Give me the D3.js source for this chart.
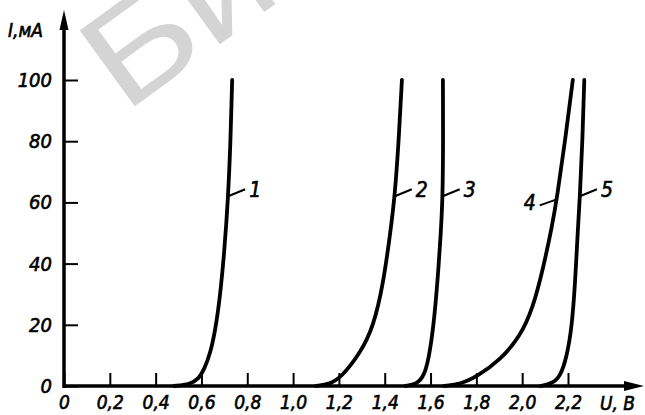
<!DOCTYPE html>
<html>
<head>
<meta charset="utf-8">
<script src="https://cdn.jsdelivr.net/npm/d3@7/dist/d3.min.js"></script>
<style>
  html, body { margin: 0; padding: 0; background: #fff; }
  svg { display: block; }
  .lbl { font-family: "DejaVu Sans Condensed", "DejaVu Sans", sans-serif; font-style: italic; font-weight: normal; fill: #000; stroke: #000; stroke-width: 0.6px; }
</style>
</head>
<body>
<svg id="chart" width="645" height="415"></svg>
<script>
// Forward current–voltage characteristics of five diodes, I (mA) vs U (V)
const curveNames = ["1", "2", "3", "4", "5"];

const diode1 = [[0.48, 0], [0.55, 0.5], [0.59, 2.5], [0.612, 5.5], [0.638, 10.5], [0.660, 18], [0.681, 29], [0.700, 44], [0.716, 61], [0.727, 80], [0.734, 100]];
const diode2 = [[1.10, 0], [1.16, 0.6], [1.21, 2.8], [1.293, 10.7], [1.351, 19.4], [1.394, 33.6], [1.424, 49.9], [1.444, 62], [1.461, 80], [1.475, 100]];
const diode3 = [[1.49, 0], [1.54, 0.6], [1.571, 3.2], [1.592, 8.8], [1.613, 19.4], [1.630, 33.6], [1.645, 49.9], [1.653, 62], [1.655, 80], [1.654, 100]];
const diode4 = [[1.66, 0], [1.73, 0.6], [1.802, 3], [1.904, 8.5], [1.991, 16.1], [2.049, 25.9], [2.093, 39], [2.130, 52], [2.153, 62], [2.187, 80], [2.221, 100]];
const diode5 = [[2.08, 0], [2.13, 0.8], [2.166, 3], [2.195, 9.6], [2.217, 19.4], [2.231, 33.6], [2.242, 49.9], [2.252, 62], [2.263, 80], [2.271, 100]];
const curves = [diode1, diode2, diode3, diode4, diode5];

// current at which each numbered leader touches its curve
const leaderCurrent = [62, 62, 62, 61, 62];

const xTicks = [0, 0.2, 0.4, 0.6, 0.8, 1.0, 1.2, 1.4, 1.6, 1.8, 2.0, 2.2];
const yTicks = [0, 20, 40, 60, 80, 100];
const xTitle = "U, В";
const yTitle = "I,мА";

const svg = d3.select("#chart");

const x = d3.scaleLinear().domain([0, 2.2]).range([64, 568]);
const y = d3.scaleLinear().domain([0, 100]).range([386, 80]);

// faint library stamp in the background
svg.append("text")
  .attr("transform", "translate(124,114) rotate(-36) scale(1.2,1)")
  .attr("font-family", "Liberation Sans, Arial, sans-serif")
  .attr("font-size", 136)
  .attr("fill", "#d4d4d4")
  .text("Би");

const fmt = d => d === 0 ? "0" : d3.format(".1f")(d).replace(".", ",");

// x axis ticks (pointing up) and labels
const gx = svg.append("g")
  .attr("transform", `translate(0,${y(0)})`)
  .call(d3.axisBottom(x).tickValues(xTicks).tickFormat(fmt)
    .tickSizeInner(-13).tickSizeOuter(0).tickPadding(10));
gx.select(".domain").remove();
gx.selectAll(".tick line").attr("stroke", "#000").attr("stroke-width", 2);
gx.selectAll(".tick text").attr("class", "lbl").attr("font-size", 19);

// y axis ticks (pointing right) and labels
const gy = svg.append("g")
  .attr("transform", `translate(${x(0)},0)`)
  .call(d3.axisLeft(y).tickValues(yTicks).tickFormat(d => String(d))
    .tickSizeInner(-14).tickSizeOuter(0).tickPadding(12));
gy.select(".domain").remove();
gy.selectAll(".tick line").attr("stroke", "#000").attr("stroke-width", 2);
gy.selectAll(".tick text").attr("class", "lbl").attr("font-size", 20);

// axis lines with arrowheads
const x0 = x(0), y0 = y(0);
svg.append("line").attr("x1", x0 - 1).attr("x2", 630).attr("y1", y0).attr("y2", y0)
  .attr("stroke", "#000").attr("stroke-width", 3.5);
svg.append("path").attr("d", `M644,${y0} L624,${y0 - 5} L624,${y0 + 5} Z`).attr("fill", "#000");
svg.append("line").attr("x1", x0).attr("x2", x0).attr("y1", y0 + 2).attr("y2", 24)
  .attr("stroke", "#000").attr("stroke-width", 3.5);
svg.append("path").attr("d", `M${x0},10 L${x0 - 4.5},30 L${x0 + 4.5},30 Z`).attr("fill", "#000");

// axis titles
svg.append("text").attr("class", "lbl").attr("font-size", 19)
  .attr("x", 8).attr("y", 37).text(yTitle);
svg.append("text").attr("class", "lbl").attr("font-size", 19)
  .attr("x", 600).attr("y", 410).text(xTitle);

// characteristic curves
const line = d3.line()
  .x(d => x(d[0]))
  .y(d => y(d[1]))
  .curve(d3.curveBasis);

svg.append("g").selectAll("path")
  .data(curves)
  .join("path")
  .attr("d", line)
  .attr("fill", "none")
  .attr("stroke", "#000")
  .attr("stroke-width", 3.8)
  .attr("stroke-linecap", "round")
  .attr("stroke-linejoin", "round");

// voltage on a curve at a given current (linear between points)
function voltageAt(pts, cur) {
  for (let i = 1; i < pts.length; i++) {
    if (pts[i][1] >= cur) {
      const [v0, c0] = pts[i - 1], [v1, c1] = pts[i];
      return v0 + (v1 - v0) * (cur - c0) / (c1 - c0);
    }
  }
  return pts[pts.length - 1][0];
}

// numbered leaders
curves.forEach((pts, i) => {
  const px = x(voltageAt(pts, leaderCurrent[i]));
  const py = y(leaderCurrent[i]);
  const left = i === 3;
  const ex = left ? px - 17 : px + 17;
  const ey = left ? py + 6 : py - 7;
  svg.append("line").attr("x1", px).attr("y1", py).attr("x2", ex).attr("y2", ey)
    .attr("stroke", "#000").attr("stroke-width", 2);
  svg.append("text").attr("class", "lbl").attr("font-size", 21)
    .attr("x", left ? ex - 4 : ex + 4).attr("y", left ? ey + 5 : ey + 8)
    .attr("text-anchor", left ? "end" : "start")
    .text(curveNames[i]);
});
</script>
</body>
</html>
